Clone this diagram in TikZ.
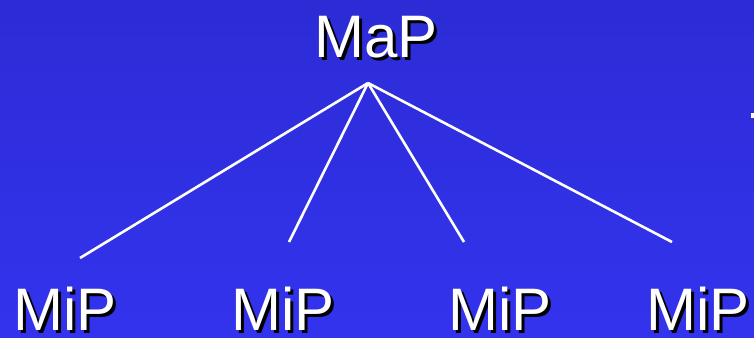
\documentclass[tikz,border=0pt]{standalone}
\usepackage{fontspec}
\setmainfont{Liberation Sans}
\definecolor{bgtop}{RGB}{44,44,214}
\definecolor{bgbot}{RGB}{51,51,238}
\begin{document}
\begin{tikzpicture}[x=1pt,y=-1pt,
  lbl/.style={font=\fontsize{60}{60}\selectfont, inner sep=0pt, anchor=base, text=white},
  shd/.style={font=\fontsize{60}{60}\selectfont, inner sep=0pt, anchor=base, text=black},
  link/.style={draw=white, line width=2.6pt}]
\shade[top color=bgtop, bottom color=bgbot] (0,0) rectangle (754,337);
\useasboundingbox (0,0) rectangle (754,337);
% shadows
\node[shd] (maps) at (379,60) {MaP};
\node[shd] (mip1s) at (68,333) {MiP};
\node[shd] (mip2s) at (286,333) {MiP};
\node[shd] (mip3s) at (503,333) {MiP};
\node[shd] (mip4s) at (701,333) {MiP};
% texts
\node[lbl] (map) at (376,57) {MaP};
\node[lbl] (mip1) at (65,330) {MiP};
\node[lbl] (mip2) at (283,330) {MiP};
\node[lbl] (mip3) at (500,330) {MiP};
\node[lbl] (mip4) at (698,330) {MiP};
% connector ends
\coordinate (apex) at (368,83);
\coordinate (e1) at (80,258);
\coordinate (e2) at (289,242);
\coordinate (e3) at (464,242);
\coordinate (e4) at (672,242);
\draw[link] (apex) -- (e1);
\draw[link] (apex) -- (e2);
\draw[link] (apex) -- (e3);
\draw[link] (apex) -- (e4);
\fill[white] (751,113) rectangle (754,118);
\end{tikzpicture}
\end{document}
